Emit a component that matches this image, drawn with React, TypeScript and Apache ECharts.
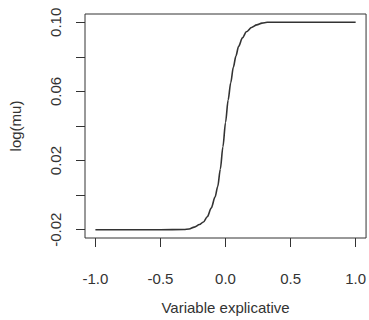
import React, { useEffect, useRef } from "react";
import * as echarts from "echarts";

const xValues = [-1.0, -0.5, -0.32, -0.28, -0.24, -0.2, -0.17, -0.14, -0.11, -0.08, -0.06, -0.04, -0.02, 0, 0.02, 0.04, 0.06, 0.08, 0.1, 0.13, 0.16, 0.2, 0.24, 0.28, 0.32, 0.5, 1.0];
const yValues = [-0.02, -0.02, -0.0199, -0.0196, -0.0185, -0.017, -0.0155, -0.0125, -0.0075, -0.001, 0.005, 0.015, 0.028, 0.042, 0.055, 0.065, 0.074, 0.0805, 0.086, 0.091, 0.0945, 0.097, 0.0985, 0.0995, 0.1, 0.1, 0.1];
const xTicks = [-1.0, -0.5, 0.0, 0.5, 1.0];
const yTicks = [-0.02, 0.0, 0.02, 0.04, 0.06, 0.08, 0.1];
const yLabels = [-0.02, 0.02, 0.06, 0.1];
const xName = "Variable explicative";
const yName = "log(mu)";

const FONT = "Liberation Sans, Arial, sans-serif";
const INK = "#333";

export default function App() {
  const ref = useRef<HTMLDivElement>(null);
  useEffect(() => {
    document.body.style.margin = "0";
    const chart = echarts.init(ref.current!, null, { renderer: "svg" });
    chart.setOption({
      animation: false,
      backgroundColor: "#fff",
      grid: {
        left: 83,
        top: 14,
        right: 2.5,
        bottom: 79.3,
        show: true,
        borderColor: INK,
        borderWidth: 1,
        backgroundColor: "transparent",
      },
      xAxis: {
        type: "value",
        min: -1.08,
        max: 1.08,
        name: xName,
        nameLocation: "middle",
        nameGap: 62,
        nameTextStyle: { fontFamily: FONT, fontSize: 15, color: INK },
        axisLine: { show: false, onZero: false },
        splitLine: { show: false },
        axisTick: {
          show: true,
          inside: false,
          length: 9,
          customValues: xTicks,
          lineStyle: { color: INK, width: 1 },
        },
        axisLabel: {
          customValues: xTicks,
          margin: 33,
          fontFamily: FONT,
          fontSize: 15,
          color: INK,
          formatter: (v: number) => v.toFixed(1),
        },
      },
      yAxis: {
        type: "value",
        min: -0.0248,
        max: 0.1048,
        name: yName,
        nameLocation: "middle",
        nameGap: 62,
        nameTextStyle: { fontFamily: FONT, fontSize: 15, color: INK },
        axisLine: { show: false, onZero: false },
        splitLine: { show: false },
        axisTick: {
          show: true,
          inside: false,
          length: 9,
          customValues: yTicks,
          lineStyle: { color: INK, width: 1 },
        },
        axisLabel: {
          customValues: yLabels,
          rotate: 90,
          margin: 22,
          fontFamily: FONT,
          fontSize: 15,
          color: INK,
          formatter: (v: number) => v.toFixed(2),
        },
      },
      series: [
        {
          type: "line",
          data: xValues.map((x, i) => [x, yValues[i]]),
          showSymbol: false,
          smooth: 0.3,
          smoothMonotone: "x",
          lineStyle: { color: "#333", width: 1.6 },
        },
      ],
    });
    return () => chart.dispose();
  }, []);
  return <div ref={ref} style={{ width: 369, height: 320 }} />;
}
